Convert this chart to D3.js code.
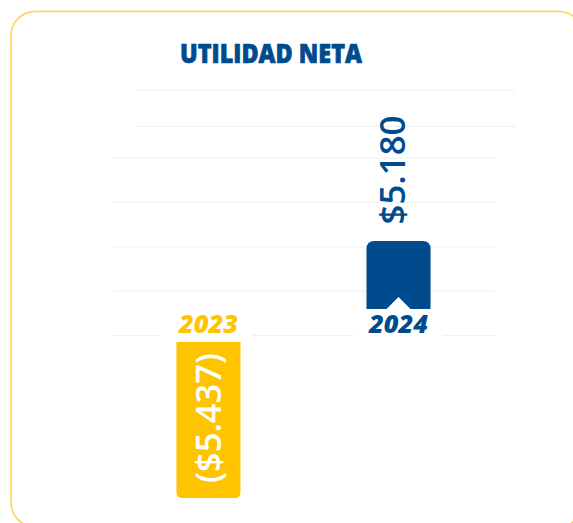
<!DOCTYPE html>
<html lang="es">
<head>
<meta charset="UTF-8">
<script src="https://d3js.org/d3.v7.min.js"></script>
<style>
  html, body { margin: 0; padding: 0; background: #fff; }
  svg { display: block; }
  .title { font-family: 'Open Sans', sans-serif; font-weight: 800; font-size: 27px; fill: #004b8d; stroke: #004b8d; stroke-width: 0.7px; text-anchor: middle; }
  .year { font-family: 'Open Sans', sans-serif; font-weight: 800; font-style: italic; font-size: 25px; text-anchor: middle; }
  .value { font-family: 'Open Sans', sans-serif; font-weight: 600; font-size: 34px; text-anchor: middle; }
</style>
</head>
<body>
<div id="chart"></div>
<script>
// datos
var years = ['2023', '2024'];
var values = [-5437, 5180];
var labels = ['($5.437)', '$5.180'];
var colors = ['#ffc400', '#004b8d'];

var width = 573, height = 523;
var blue = '#004b8d';

var svg = d3.select('#chart').append('svg')
  .attr('width', width)
  .attr('height', height);

// tarjeta
svg.append('rect')
  .attr('x', 11).attr('y', 11.5)
  .attr('width', 572).attr('height', 515)
  .attr('rx', 24)
  .style('fill', '#fff')
  .style('stroke', '#ffd23f')
  .style('stroke-width', 1.5);

svg.append('text')
  .attr('class', 'title')
  .attr('x', 271).attr('y', 63)
  .attr('textLength', 182)
  .attr('lengthAdjust', 'spacingAndGlyphs')
  .text('UTILIDAD NETA');

// escalas (infografia: no proporcional, dos tramos)
var x = d3.scaleBand()
  .domain(years)
  .range([113, 494])
  .paddingInner(0.663)
  .paddingOuter(0.334);

var y = d3.scaleLinear()
  .domain([-5437, 0, 5180])
  .range([498, 336, 241]);

// lineas guia
var grid = [
  {y: 90, x1: 136, x2: 516},
  {y: 126.5, x1: 136, x2: 516},
  {y: 158, x1: 113, x2: 494},
  {y: 202.5, x1: 113, x2: 494},
  {y: 247, x1: 113, x2: 494},
  {y: 291, x1: 113, x2: 494},
  {y: 335.5, x1: 113, x2: 494}
];
svg.selectAll('.grid').data(grid).enter().append('line')
  .attr('class', 'grid')
  .attr('x1', function(d) { return d.x1; })
  .attr('x2', function(d) { return d.x2; })
  .attr('y1', function(d) { return d.y; })
  .attr('y2', function(d) { return d.y; })
  .style('stroke', '#f0f0f0')
  .style('stroke-width', 1);

var bw = x.bandwidth();
var r = 8;

function barPath(i) {
  var x0 = x(years[i]), x1 = x0 + bw, cx = x0 + bw / 2;
  if (values[i] >= 0) {
    var top = y(values[i]), bot = y(0) - 27;
    var nh = 12, nw = 12;
    return 'M' + x0 + ',' + bot +
      'V' + (top + r) + 'Q' + x0 + ',' + top + ' ' + (x0 + r) + ',' + top +
      'H' + (x1 - r) + 'Q' + x1 + ',' + top + ' ' + x1 + ',' + (top + r) +
      'V' + bot + 'H' + (cx + nw) + 'L' + cx + ',' + (bot - nh) + 'L' + (cx - nw) + ',' + bot + 'Z';
  } else {
    var t = y(0) + 6, b = y(values[i]);
    var rr = 6;
    return 'M' + x0 + ',' + t + 'H' + x1 +
      'V' + (b - rr) + 'Q' + x1 + ',' + b + ' ' + (x1 - rr) + ',' + b +
      'H' + (x0 + rr) + 'Q' + x0 + ',' + b + ' ' + x0 + ',' + (b - rr) + 'Z';
  }
}

svg.selectAll('.bar').data(values).enter().append('path')
  .attr('class', 'bar')
  .attr('d', function(d, i) { return barPath(i); })
  .style('fill', function(d, i) { return colors[i]; });

// etiquetas de anio con fondo blanco
var yearG = svg.selectAll('.yearlab').data(years).enter().append('g')
  .attr('class', 'yearlab')
  .attr('transform', function(d) { return 'translate(' + (x(d) + bw / 2) + ',333)'; });

yearG.append('rect')
  .attr('x', function(d, i) { return i === 0 ? -49 : -45; })
  .attr('width', function(d, i) { return i === 0 ? 93 : 89; })
  .attr('y', 0).attr('height', 5)
  .style('fill', '#fff');

yearG.append('text')
  .attr('class', 'year')
  .attr('textLength', 59)
  .attr('lengthAdjust', 'spacingAndGlyphs')
  .style('fill', function(d, i) { return colors[i]; })
  .text(function(d) { return d; });

// valores rotados
svg.append('text')
  .attr('class', 'value')
  .attr('transform', 'translate(' + (x(years[0]) + bw / 2 + 13) + ',' + ((y(0) + y(values[0])) / 2 + 1) + ') rotate(-90)')
  .attr('textLength', 130)
  .attr('lengthAdjust', 'spacingAndGlyphs')
  .style('fill', '#fff')
  .text(labels[0]);

svg.append('text')
  .attr('class', 'value')
  .attr('transform', 'translate(405,' + (y(values[1]) - 71) + ') rotate(-90)')
  .attr('textLength', 109)
  .attr('lengthAdjust', 'spacingAndGlyphs')
  .style('fill', blue)
  .text(labels[1]);
</script>
</body>
</html>
